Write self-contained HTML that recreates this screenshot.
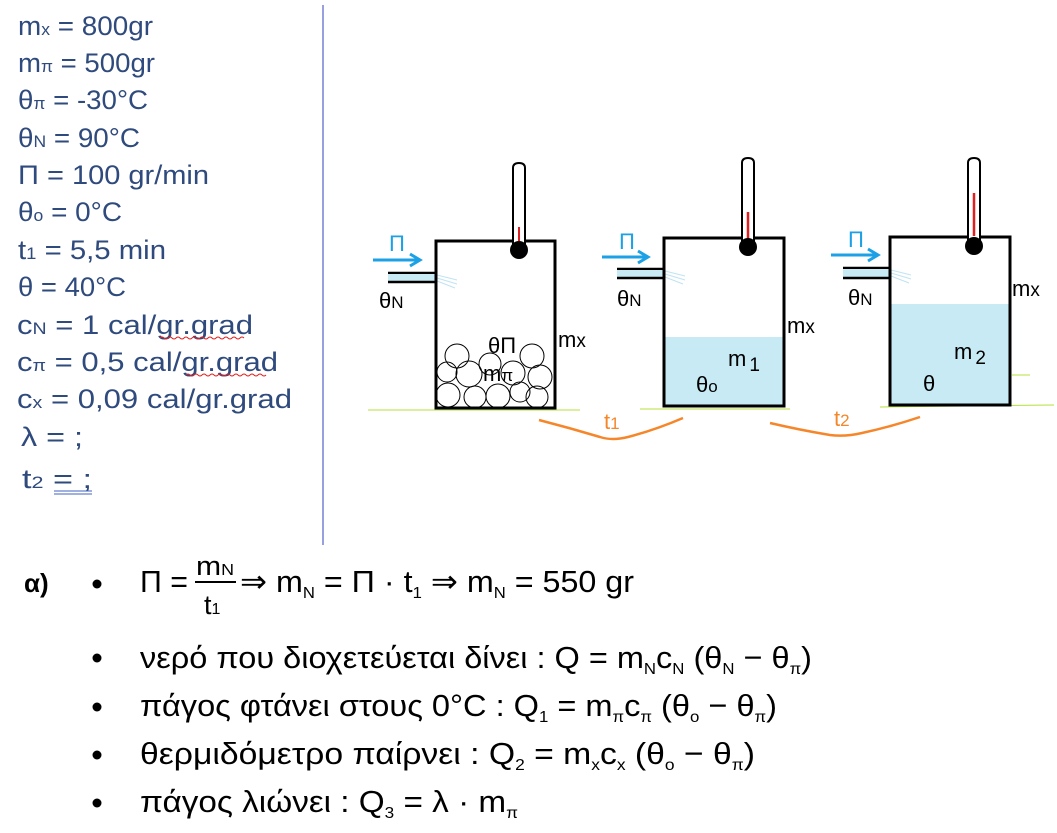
<!DOCTYPE html>
<html><head><meta charset="utf-8"><style>
html,body{margin:0;padding:0;background:#fff;}
svg{display:block;}
.l{font-family:"Liberation Sans",sans-serif;font-size:27px;fill:#2f4a7d;}
.d{font-family:"Liberation Sans",sans-serif;font-size:22px;fill:#000;}
.b{font-family:"Liberation Sans",sans-serif;font-size:31px;fill:#000;}
.bl{font-family:"Liberation Sans",sans-serif;font-size:22px;fill:#1ca0e6;}
.or{font-family:"Liberation Sans",sans-serif;font-size:22px;fill:#f5862a;}
</style></head><body>
<svg width="1057" height="833" viewBox="0 0 1057 833" xmlns="http://www.w3.org/2000/svg">
<g class="l">
<text x="18" y="35" textLength="135" lengthAdjust="spacingAndGlyphs">m<tspan font-size="17">x</tspan> = 800gr</text>
<text x="18" y="72" textLength="137" lengthAdjust="spacingAndGlyphs">m<tspan font-size="17">π</tspan> = 500gr</text>
<text x="18" y="109" textLength="130" lengthAdjust="spacingAndGlyphs">θ<tspan font-size="17">π</tspan> = -30°C</text>
<text x="18" y="147" textLength="122" lengthAdjust="spacingAndGlyphs">θ<tspan font-size="17">N</tspan> =  90°C</text>
<text x="18" y="184" textLength="191" lengthAdjust="spacingAndGlyphs">Π = 100 gr/min</text>
<text x="18" y="221" textLength="104" lengthAdjust="spacingAndGlyphs">θ<tspan font-size="17">o</tspan> = 0°C</text>
<text x="18" y="259" textLength="148" lengthAdjust="spacingAndGlyphs">t<tspan font-size="17">1</tspan> = 5,5 min</text>
<text x="18" y="296" textLength="108" lengthAdjust="spacingAndGlyphs">θ = 40°C</text>
<text x="17" y="334" textLength="236" lengthAdjust="spacingAndGlyphs">c<tspan font-size="17">N</tspan> = 1 cal/gr.grad</text>
<text x="17" y="371" textLength="261" lengthAdjust="spacingAndGlyphs">c<tspan font-size="17">π</tspan> = 0,5 cal/gr.grad</text>
<text x="17" y="408" textLength="275" lengthAdjust="spacingAndGlyphs">c<tspan font-size="17">x</tspan> = 0,09 cal/gr.grad</text>
<text x="21" y="446" textLength="62" lengthAdjust="spacingAndGlyphs">λ = ;</text>
<text x="22" y="488" textLength="70" lengthAdjust="spacingAndGlyphs">t<tspan font-size="17">2</tspan> = ;</text>
</g>
<path d="M160 338 q2 -2 4 0 t4 0 t4 0 t4 0 t4 0 t4 0 t4 0 t4 0 t4 0 t4 0 t4 0 t4 0 t4 0 t4 0 t4 0 t4 0 t4 0 t4 0 t4 0 t4 0 t4 0" stroke="#e02020" stroke-width="1" fill="none"/>
<path d="M186 375 q2 -2 4 0 t4 0 t4 0 t4 0 t4 0 t4 0 t4 0 t4 0 t4 0 t4 0 t4 0 t4 0 t4 0 t4 0 t4 0 t4 0 t4 0 t4 0 t4 0 t4 0" stroke="#e02020" stroke-width="1" fill="none"/>
<line x1="54" y1="491" x2="92" y2="491" stroke="#4060c0" stroke-width="1"/>
<line x1="54" y1="494" x2="92" y2="494" stroke="#4060c0" stroke-width="1"/>
<line x1="323" y1="5" x2="323" y2="545" stroke="#3040c0" stroke-width="1"/>

<g stroke="#b5e03a" stroke-width="1">
<line x1="368" y1="410" x2="580" y2="410"/>
<line x1="640" y1="409" x2="790" y2="409"/>
<line x1="880" y1="407" x2="1054" y2="405"/>
<line x1="1012" y1="375" x2="1030" y2="375"/>
</g>

<g>
<line x1="388" y1="273" x2="436" y2="273" stroke="#000" stroke-width="2.5"/>
<rect x="388" y="274" width="48" height="7" fill="#c8eaf4"/>
<line x1="388" y1="282" x2="436" y2="282" stroke="#000" stroke-width="2.5"/>
<path d="M437 275 l20 5 M437 278 l20 6 M437 281 l18 7" stroke="#bfe3f2" stroke-width="1"/>
<line x1="373" y1="260" x2="418" y2="260" stroke="#1ca0e6" stroke-width="3"/>
<path d="M410 254 l10 6 l-10 6" stroke="#1ca0e6" stroke-width="3" fill="none"/>
<text x="389" y="251" class="bl">Π</text>
<text x="379" y="308" class="d">θ<tspan font-size="17">N</tspan></text>
<g fill="none" stroke="#000" stroke-width="1">
<circle cx="457" cy="356" r="12"/><circle cx="447" cy="372" r="10"/><circle cx="469" cy="374" r="13"/>
<circle cx="490" cy="364" r="11"/><circle cx="532" cy="356" r="12"/><circle cx="513" cy="373" r="12"/>
<circle cx="540" cy="377" r="12"/><circle cx="448" cy="395" r="12"/><circle cx="475" cy="397" r="11"/>
<circle cx="498" cy="396" r="12"/><circle cx="520" cy="392" r="10"/><circle cx="537" cy="397" r="11"/>
</g>
<rect x="436" y="241" width="119" height="167" fill="none" stroke="#000" stroke-width="3"/>
<text x="488" y="353" class="d">θΠ</text>
<text x="483" y="381" class="d">m<tspan font-size="17">π</tspan></text>
<text x="558" y="347" class="d">m<tspan font-size="19">x</tspan></text>
<path d="M513 247 V168 q0 -5 6 -5 q6 0 6 5 V247" fill="#fff" stroke="#000" stroke-width="2"/>
<line x1="519" y1="227" x2="519" y2="241" stroke="#e02020" stroke-width="2"/>
<circle cx="519" cy="250" r="9" fill="#000"/>
</g>

<g>
<line x1="617" y1="269" x2="664" y2="269" stroke="#000" stroke-width="2.5"/>
<rect x="617" y="270" width="47" height="7" fill="#c8eaf4"/>
<line x1="617" y1="278" x2="664" y2="278" stroke="#000" stroke-width="2.5"/>
<path d="M665 271 l20 5 M665 274 l20 6 M665 277 l18 7" stroke="#bfe3f2" stroke-width="1"/>
<line x1="602" y1="257" x2="646" y2="257" stroke="#1ca0e6" stroke-width="3"/>
<path d="M638 251 l10 6 l-10 6" stroke="#1ca0e6" stroke-width="3" fill="none"/>
<text x="619" y="249" class="bl">Π</text>
<text x="617" y="306" class="d">θ<tspan font-size="17">N</tspan></text>
<rect x="665" y="337" width="118" height="69" fill="#c8eaf4"/>
<rect x="664" y="238" width="120" height="168" fill="none" stroke="#000" stroke-width="3"/>
<text x="728" y="366" class="d">m<tspan font-size="19" dx="3" dy="5">1</tspan></text>
<text x="696" y="392" class="d">θ<tspan font-size="17">o</tspan></text>
<text x="787" y="333" class="d">m<tspan font-size="19">x</tspan></text>
<path d="M742 245 V163 q0 -5 6 -5 q6 0 6 5 V245" fill="#fff" stroke="#000" stroke-width="2"/>
<line x1="748" y1="212" x2="748" y2="238" stroke="#e02020" stroke-width="2.5"/>
<circle cx="748" cy="247" r="9" fill="#000"/>
</g>

<g>
<line x1="843" y1="268" x2="891" y2="268" stroke="#000" stroke-width="2.5"/>
<rect x="843" y="269" width="48" height="8" fill="#c8eaf4"/>
<line x1="843" y1="278" x2="891" y2="278" stroke="#000" stroke-width="2.5"/>
<path d="M891 270 l20 5 M891 273 l20 6 M891 276 l18 7" stroke="#bfe3f2" stroke-width="1"/>
<line x1="831" y1="255" x2="876" y2="255" stroke="#1ca0e6" stroke-width="3"/>
<path d="M868 249 l10 6 l-10 6" stroke="#1ca0e6" stroke-width="3" fill="none"/>
<text x="848" y="247" class="bl">Π</text>
<text x="848" y="305" class="d">θ<tspan font-size="17">N</tspan></text>
<rect x="891" y="304" width="118" height="100" fill="#c8eaf4"/>
<rect x="890" y="237" width="120" height="168" fill="none" stroke="#000" stroke-width="3"/>
<text x="954" y="359" class="d">m<tspan font-size="19" dx="3" dy="5">2</tspan></text>
<text x="923" y="391" class="d">θ</text>
<text x="1012" y="296" class="d">m<tspan font-size="19">x</tspan></text>
<path d="M968 244 V163 q0 -5 6 -5 q6 0 6 5 V244" fill="#fff" stroke="#000" stroke-width="2"/>
<line x1="974" y1="193" x2="974" y2="236" stroke="#e02020" stroke-width="2.5"/>
<circle cx="974" cy="246" r="9" fill="#000"/>
</g>

<path d="M539 420 Q570 428 600 437 Q612 441 628 437 Q655 430 683 418" stroke="#f5862a" stroke-width="2.5" fill="none"/>
<text x="604" y="429" class="or">t<tspan font-size="17">1</tspan></text>
<path d="M770 423 Q800 430 830 435 Q845 437 862 433 Q890 427 920 417" stroke="#f5862a" stroke-width="2.5" fill="none"/>
<text x="834" y="426" class="or">t<tspan font-size="17">2</tspan></text>

<g class="b">
<text x="24" y="592" font-weight="bold" font-size="26">α)</text>
<circle cx="97" cy="584" r="4.5" fill="#000"/>
<circle cx="97" cy="658" r="4.5" fill="#000"/>
<circle cx="97" cy="707" r="4.5" fill="#000"/>
<circle cx="97" cy="755" r="4.5" fill="#000"/>
<circle cx="97" cy="803" r="4.5" fill="#000"/>
<text x="140" y="592" textLength="48" lengthAdjust="spacingAndGlyphs">Π =</text>
<text x="196" y="575" font-size="27" textLength="38" lengthAdjust="spacingAndGlyphs">m<tspan font-size="16">N</tspan></text>
<line x1="195" y1="582" x2="236" y2="582" stroke="#000" stroke-width="2"/>
<text x="204" y="614" font-size="27">t<tspan font-size="16">1</tspan></text>
<text x="240" y="592" textLength="394" lengthAdjust="spacingAndGlyphs">⇒ m<tspan font-size="16" dy="6">N</tspan><tspan dy="-6"> = Π · t</tspan><tspan font-size="16" dy="6">1</tspan><tspan dy="-6"> ⇒ m</tspan><tspan font-size="16" dy="6">N</tspan><tspan dy="-6"> = 550 gr</tspan></text>
<text x="140" y="668" textLength="672" lengthAdjust="spacingAndGlyphs">νερό που διοχετεύεται δίνει :  Q = m<tspan font-size="16" dy="6">N</tspan><tspan dy="-6">c</tspan><tspan font-size="16" dy="6">N</tspan><tspan dy="-6"> (θ</tspan><tspan font-size="16" dy="6">N</tspan><tspan dy="-6"> − θ</tspan><tspan font-size="16" dy="6">π</tspan><tspan dy="-6">)</tspan></text>
<text x="140" y="716" textLength="637" lengthAdjust="spacingAndGlyphs">πάγος φτάνει στους 0°C  : Q<tspan font-size="16" dy="6">1</tspan><tspan dy="-6"> = m</tspan><tspan font-size="16" dy="6">π</tspan><tspan dy="-6">c</tspan><tspan font-size="16" dy="6">π</tspan><tspan dy="-6"> (θ</tspan><tspan font-size="16" dy="6">o</tspan><tspan dy="-6"> − θ</tspan><tspan font-size="16" dy="6">π</tspan><tspan dy="-6">)</tspan></text>
<text x="140" y="764" textLength="615" lengthAdjust="spacingAndGlyphs">θερμιδόμετρο παίρνει :  Q<tspan font-size="16" dy="6">2</tspan><tspan dy="-6"> = m</tspan><tspan font-size="16" dy="6">x</tspan><tspan dy="-6">c</tspan><tspan font-size="16" dy="6">x</tspan><tspan dy="-6"> (θ</tspan><tspan font-size="16" dy="6">o</tspan><tspan dy="-6"> − θ</tspan><tspan font-size="16" dy="6">π</tspan><tspan dy="-6">)</tspan></text>
<text x="140" y="812" textLength="378" lengthAdjust="spacingAndGlyphs">πάγος λιώνει :  Q<tspan font-size="16" dy="6">3</tspan><tspan dy="-6"> = λ · m</tspan><tspan font-size="16" dy="6">π</tspan></text>
</g>
</svg>
</body></html>
